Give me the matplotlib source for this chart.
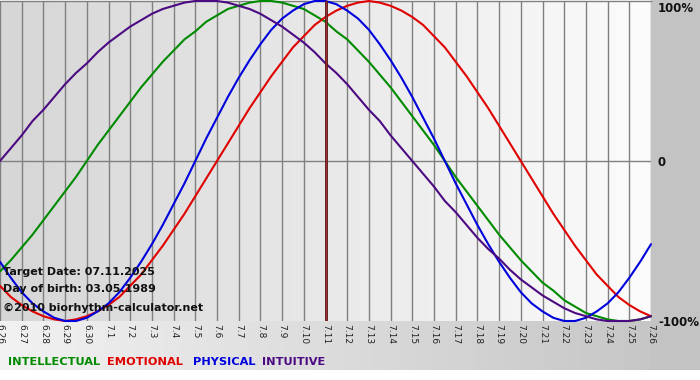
import numpy as np
import matplotlib
matplotlib.use("Agg")
import matplotlib.pyplot as plt
from matplotlib.colors import LinearSegmentedColormap
from matplotlib.patches import Rectangle

# Days shown on the x axis (6.26 .. 7.26)
days = ["6.26", "6.27", "6.28", "6.29", "6.30"] + ["7.%d" % d for d in range(1, 27)]

# Biorhythm values in percent, every half day (6.26 .. 7.26)
intellectual = [-69, -62, -54, -46, -37, -28, -19, -10, 0,
                10, 19, 28, 37, 46, 54, 62, 69, 76, 81, 87, 91, 95, 97, 99, 100,
                100, 99, 97, 95, 91, 87, 81, 76, 69, 62, 54, 46, 37, 28, 19, 10, 0,
                -10, -19, -28, -37, -46, -54, -62, -69, -76, -81, -87, -91, -95,
                -97, -99, -100, -100, -99, -97]
emotional = [-78, -85, -90, -94, -97, -99, -100, -99, -97, -94, -90, -85, -78, -71,
             -62, -53, -43, -33, -22, -11, 0,
             11, 22, 33, 43, 53, 62, 71, 78, 85, 90, 94, 97, 99, 100, 99, 97, 94,
             90, 85, 78, 71, 62, 53, 43, 33, 22, 11, 0,
             -11, -22, -33, -43, -53, -62, -71, -78, -85, -90, -94, -97]
physical = [-63, -73, -82, -89, -94, -98, -100, -100, -98, -94, -89, -82, -73, -63,
            -52, -40, -27, -14, 0,
            14, 27, 40, 52, 63, 73, 82, 89, 94, 98, 100, 100, 98, 94, 89, 82, 73,
            63, 52, 40, 27, 14, 0,
            -14, -27, -40, -52, -63, -73, -82, -89, -94, -98, -100, -100, -98,
            -94, -89, -82, -73, -63, -52]
intuitive = [0, 8, 16, 25, 32, 40, 48, 55, 61, 68, 74, 79, 84, 88, 92, 95, 97, 99,
             100, 100, 100, 99, 97, 95, 92, 88, 84, 79, 74, 68, 61, 55, 48, 40, 32,
             25, 16, 8, 0,
             -8, -16, -25, -32, -40, -48, -55, -61, -68, -74, -79, -84, -88, -92,
             -95, -97, -99, -100, -100, -100, -99, -97]

series_names = ["INTELLECTUAL", "EMOTIONAL", "PHYSICAL", "INTUITIVE"]
series_values = [intellectual, emotional, physical, intuitive]
series_colors = ["#008a00", "#e00000", "#0000dd", "#4b0a82"]

target_day = "7.11"
info_lines = ["Target Date: 07.11.2025", "Day of birth: 03.05.1989",
              "\u00a92010 biorhythm-calculator.net"]
y_labels = ["100%", "0", "-100%"]

W, H = 700, 380


def fx(px):
    return px / W


def fy(py):
    return 1 - py / H


fig = plt.figure(figsize=(7, 3.8), dpi=100)
fig.patch.set_facecolor("white")

# background: bottom band gradient and grey right margin
bg = fig.add_axes([0, 0, 1, 1], zorder=-1)
bg.set_xlim(0, W)
bg.set_ylim(H, 0)
bg.axis("off")
band = LinearSegmentedColormap.from_list("band", ["#f2f2f2", "#c3c3c3"])
bg.imshow(np.linspace(0, 1, 256).reshape(1, -1), cmap=band, aspect="auto",
          extent=(0, W, 370, 321), zorder=0)
bg.add_patch(Rectangle((651, 0), W - 651, 370, color="#c3c3c3", zorder=1, lw=0))

# main plot area
ax = fig.add_axes([0, fy(321), fx(651), 320 / H])
x = np.arange(len(days))
ax.set_xlim(0, len(days) - 1)
ax.set_ylim(-100, 100)
area = LinearSegmentedColormap.from_list("area", ["#d6d6d6", "#fcfcfc"])
ax.imshow(np.linspace(0, 1, 256).reshape(1, -1), cmap=area, aspect="auto",
          extent=(0, len(days) - 1, -100, 100), zorder=0)

for xi in x:
    ax.axvline(xi, color="#808080", lw=1.0, zorder=1)
ax.axhline(0, color="#808080", lw=1.0, zorder=1)
ax.axhline(100, color="#808080", lw=1.0, zorder=1, clip_on=False)

# half-day sampling positions
for vals, col in zip(series_values, series_colors):
    xs = np.arange(len(vals)) * 0.5
    ax.plot(xs, vals, color=col, lw=1.5, zorder=3, clip_on=False,
            solid_capstyle="round", solid_joinstyle="round")

# target date marker
ti = days.index(target_day)
ax.axvline(ti, color="#5c1414", lw=2.0, zorder=4)
ax.axvline(ti, color="#a83434", lw=0.6, zorder=5)

for s in ax.spines.values():
    s.set_visible(False)
ax.set_yticks([])
ax.set_xticks(x)
ax.set_xticklabels(days, rotation=-90, fontsize=6.5, color="#222222")
ax.tick_params(axis="x", length=0, pad=2)

# overlay texts
for txt, py in zip(info_lines, [272, 289, 308]):
    fig.text(fx(3), fy(py), txt, fontsize=8, fontweight="bold", color="#111111",
             ha="left", va="center", zorder=10)

for txt, py in zip(y_labels, [8, 162, 322]):
    fig.text(fx(658), fy(py), txt, fontsize=8.5, fontweight="bold", color="#111111",
             ha="left", va="center")

# legend
for name, col, px in zip(series_names, series_colors, [8, 107, 193, 262]):
    fig.text(fx(px), fy(362), name, fontsize=8.2, fontweight="bold", color=col,
             ha="left", va="center")

fig.savefig("out.png", dpi=100)
